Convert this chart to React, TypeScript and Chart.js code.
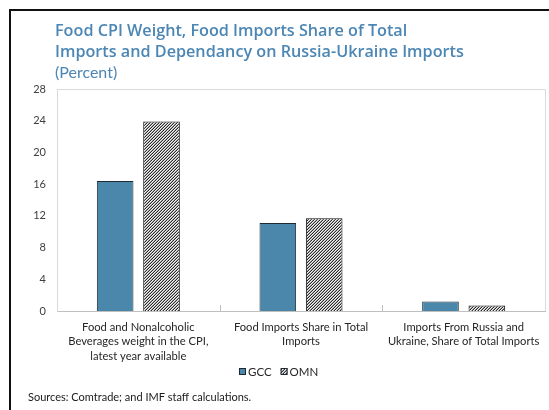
import React, { useEffect, useRef } from "react";
import { Chart, registerables } from "chart.js";

Chart.register(...registerables);

// Chart data
const categories: string[][] = [
  ["Food and Nonalcoholic", "Beverages weight in the CPI,", "latest year available"],
  ["Food Imports Share in Total", "Imports"],
  ["Imports From Russia and", "Ukraine, Share of Total Imports"],
];
const seriesNames = ["GCC", "OMN"];
const gccValues = [16.4, 11.1, 1.2];
const omnValues = [23.9, 11.7, 0.7];
const yMin = 0;
const yMax = 28;
const yStep = 4;

const titleLines = [
  "Food CPI Weight, Food Imports Share of Total",
  "Imports and Dependancy on Russia-Ukraine Imports",
];
const subtitle = "(Percent)";
const sourceNote = "Sources: Comtrade; and IMF staff calculations.";

const W = 549;
const H = 410;
const BLUE = "#4a87ab";
const TITLE_BLUE = "#4b86b4";
const EDGE = "#1e2a33";
const LABEL_FONT = "Lato, 'Open Sans', sans-serif";

function makeHatch(): CanvasPattern | string {
  const tile = document.createElement("canvas");
  tile.width = 3;
  tile.height = 3;
  const c = tile.getContext("2d");
  if (!c) return "#999";
  c.fillStyle = "#f4f4f4";
  c.fillRect(0, 0, 3, 3);
  c.fillStyle = "#2a2a2a";
  c.fillRect(2, 0, 1, 1);
  c.fillRect(1, 1, 1, 1);
  c.fillRect(0, 2, 1, 1);
  c.fillStyle = "#a8a8a8";
  c.fillRect(1, 0, 1, 1);
  c.fillRect(0, 1, 1, 1);
  c.fillRect(2, 2, 1, 1);
  const ctx = document.createElement("canvas").getContext("2d");
  return (ctx && ctx.createPattern(tile, "repeat")) || "#999";
}

// Frame, headings, plot border, category separators, legend and source line
const decorations = {
  id: "decorations",
  afterDatasetsDraw(chart: any) {
    const { ctx, chartArea } = chart;
    const xs = chart.scales.x;
    ctx.save();

    // plot area border (top and right)
    ctx.strokeStyle = "#d9d9d9";
    ctx.lineWidth = 1;
    ctx.beginPath();
    ctx.moveTo(chartArea.left, chartArea.top + 0.5);
    ctx.lineTo(chartArea.right + 0.5, chartArea.top + 0.5);
    ctx.lineTo(chartArea.right + 0.5, chartArea.bottom);
    ctx.stroke();

    // short separators between categories
    ctx.strokeStyle = "#bfbfbf";
    ctx.beginPath();
    for (let i = 1; i < categories.length; i++) {
      const x = Math.round((xs.getPixelForValue(i - 1) + xs.getPixelForValue(i)) / 2) + 0.5;
      ctx.moveTo(x, chartArea.bottom);
      ctx.lineTo(x, chartArea.bottom - 6);
    }
    ctx.stroke();
    ctx.restore();
  },
  afterDraw(chart: any) {
    const { ctx } = chart;
    ctx.save();

    // outer frame
    ctx.fillStyle = "#111";
    ctx.fillRect(9, 9, W - 9, 2);
    ctx.fillRect(9, 9, 2, H - 9);

    // headings
    ctx.fillStyle = TITLE_BLUE;
    ctx.textAlign = "left";
    ctx.textBaseline = "alphabetic";
    ctx.font = "600 16.2px 'Open Sans', Lato, sans-serif";
    ctx.fillText(titleLines[0], 55, 36);
    ctx.fillText(titleLines[1], 55, 57);
    ctx.font = "16px Lato, 'Open Sans', sans-serif";
    ctx.fillText(subtitle, 55, 78);

    // legend
    const datasets = chart.data.datasets;
    ctx.font = "11.5px " + LABEL_FONT;
    ctx.textBaseline = "middle";
    const box = 7;
    const gapBox = 2;
    const gapItem = 9;
    const widths = datasets.map((d: any) => box + gapBox + ctx.measureText(d.label).width);
    const total = widths.reduce((a: number, b: number) => a + b, 0) + gapItem * (datasets.length - 1);
    let x = Math.round(279 - total / 2);
    const cy = 371;
    datasets.forEach((d: any, i: number) => {
      ctx.fillStyle = d.backgroundColor;
      ctx.fillRect(x, cy - 3, box, box);
      ctx.strokeStyle = EDGE;
      ctx.lineWidth = 1;
      ctx.strokeRect(x + 0.5, cy - 3 + 0.5, box - 1, box - 1);
      ctx.fillStyle = "#262626";
      ctx.fillText(d.label, x + box + gapBox, cy + 1);
      x += widths[i] + gapItem;
    });

    // source line
    ctx.textBaseline = "alphabetic";
    ctx.fillStyle = "#1a1a1a";
    ctx.font = "11px " + LABEL_FONT;
    ctx.fillText(sourceNote, 28, 401);

    ctx.restore();
  },
};

export default function App() {
  const canvasRef = useRef<HTMLCanvasElement | null>(null);

  useEffect(() => {
    const canvas = canvasRef.current;
    if (!canvas) return;
    const hatch = makeHatch();

    const chart = new Chart(canvas, {
      type: "bar",
      data: {
        labels: categories,
        datasets: [
          {
            label: seriesNames[0],
            data: gccValues,
            backgroundColor: BLUE,
            borderColor: EDGE,
            borderWidth: 1,
            categoryPercentage: 0.57,
            barPercentage: 0.79,
          },
          {
            label: seriesNames[1],
            data: omnValues,
            backgroundColor: hatch as any,
            borderColor: "#111",
            borderWidth: 1,
            categoryPercentage: 0.57,
            barPercentage: 0.79,
          },
        ],
      },
      options: {
        responsive: false,
        animation: false,
        devicePixelRatio: 1,
        layout: { padding: { left: 9, right: 4, top: 89, bottom: 0 } },
        plugins: {
          legend: { display: false },
          title: { display: false },
          tooltip: { enabled: false },
        },
        scales: {
          x: {
            grid: { display: false, drawTicks: false },
            border: { color: "#bfbfbf", width: 1 },
            ticks: {
              color: "#262626",
              font: { family: LABEL_FONT, size: 11.2, lineHeight: 1.3 },
              padding: 9,
              maxRotation: 0,
              autoSkip: false,
            },
            afterFit: (s: any) => {
              s.height = 99;
            },
          },
          y: {
            min: yMin,
            max: yMax,
            grid: { display: false, drawTicks: false },
            border: { color: "#d9d9d9", width: 1 },
            ticks: {
              stepSize: yStep,
              color: "#404040",
              font: { family: LABEL_FONT, size: 11 },
              padding: 11,
            },
            afterFit: (s: any) => {
              s.width = 48;
            },
          },
        },
      },
      plugins: [decorations],
    });

    return () => chart.destroy();
  }, []);

  return (
    <div style={{ position: "absolute", left: 0, top: 0, width: W, height: H, background: "#fff" }}>
      <canvas ref={canvasRef} width={W} height={H} style={{ display: "block" }} />
    </div>
  );
}
